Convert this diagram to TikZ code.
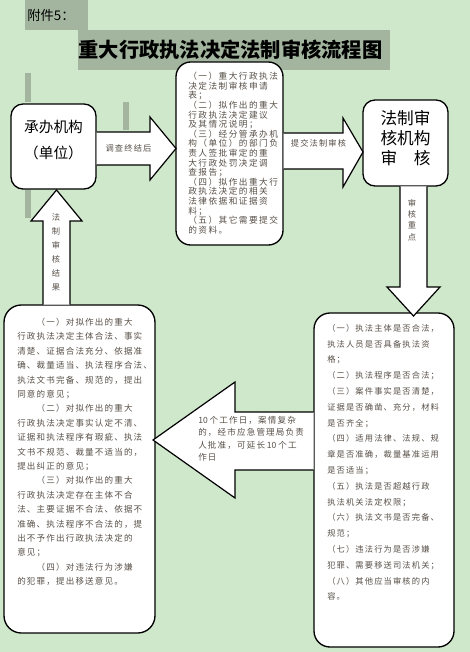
\documentclass[tikz,border=0pt]{standalone}
\usepackage{fontspec}
\setmainfont{Noto Sans CJK SC}
\usetikzlibrary{positioning,calc}
\definecolor{bggreen}{RGB}{207,231,203}
\definecolor{hlgray}{RGB}{163,181,159}
\definecolor{txtgray}{RGB}{88,80,72}
% extra tracking between CJK characters
\newdimen\cjkgap
\cjkgap=0pt
\newcount\cjkc
\def\cjkclass#1#2{\cjkc=#1 \loop\XeTeXcharclass\cjkc=5 \advance\cjkc by 1 \ifnum\cjkc<#2 \repeat}
\cjkclass{"3000}{"3040}
\cjkclass{"4E00}{"A000}
\cjkclass{"FF00}{"FFF0}
\XeTeXinterchartokenstate=1
\XeTeXinterchartoks 5 5 = {\hskip\cjkgap\relax}

\begin{document}
\begin{tikzpicture}[
    x=0.75pt, y=-0.75pt,
    box/.style={draw=black, fill=white, line width=1pt, rounded corners=9pt, inner sep=0pt},
    barrow/.style={draw=black, fill=white, line width=0.9pt, line join=miter},
    note/.style={text=txtgray, inner sep=0pt, align=left, anchor=north west},
    tag/.style={text=txtgray, inner sep=0pt, align=center}
]
\useasboundingbox (0,0) rectangle (470,652);
\fill[bggreen] (0,0) rectangle (470,652);

%% header
\fill[hlgray] (25,0) rectangle (88,30);
\fill[hlgray] (78,30) rectangle (390,70);
\fill[hlgray] (25,73) rectangle (31,102);
\fill[hlgray] (123,102) rectangle (129,130);
\fill[hlgray] (25,190) rectangle (31,218);
\node[anchor=west, inner sep=0pt, font=\fontsize{10}{12}\selectfont] (fj) at (27,15) {附件5：};
\node[inner sep=0pt, font=\bfseries\fontsize{15.2}{18}\selectfont] (title) at (230.5,50) {重大行政执法决定法制审核流程图};

%% boxes
\node[box, minimum width=85*0.75pt, minimum height=85*0.75pt] (cb) at (53.5,146.5) {};
\node[box, rounded corners=11pt, minimum width=107*0.75pt, minimum height=183*0.75pt] (cl) at (229.5,153.5) {};
\node[box, minimum width=85*0.75pt, minimum height=86*0.75pt] (fz) at (405.5,143) {};
\node[box, rounded corners=12pt, minimum width=140*0.75pt, minimum height=334*0.75pt] (zd) at (384,480) {};
\node[box, rounded corners=13pt, minimum width=151*0.75pt, minimum height=328*0.75pt] (yj) at (79.5,469) {};

\node[inner sep=0pt, align=center, font=\fontsize{11}{19.5}\selectfont] (cbt) at (53.5,140) {承办机构\\（单位）};
\node[inner sep=0pt, align=center, font=\fontsize{12.5}{15}\selectfont] (fzt) at (405.5,138) {法制审\\核机构\\审\hspace{1em}核};

\node[note, font={\fontsize{6.5}{7.2}\selectfont\setlength{\cjkgap}{1.1pt}}] (clt) at (188,72) {%
（一）重大行政执法\\决定法制审核申请\\表；\\（二）拟作出的重大\\行政执法决定建议\\及其情况说明；\\%
（三）经分管承办机\\构（单位）的部门负\\责人签批审定的重\\大行政处罚决定调\\查报告；\\%
（四）拟作出重大行\\政执法决定的相关\\法律依据和证据资\\料；\\（五）其它需要提交\\的资料。};

\node[note, font={\fontsize{6.2}{11.85}\selectfont\setlength{\cjkgap}{0.85pt}}] (zdt) at (327,324) {%
（一）执法主体是否合法，\\执法人员是否具备执法资\\格；\\（二）执法程序是否合法；\\%
（三）案件事实是否清楚，\\证据是否确凿、充分，材料\\是否齐全；\\%
（四）适用法律、法规、规\\章是否准确，裁量基准运用\\是否适当；\\%
（五）执法是否超越行政\\执法机关法定权限；\\（六）执法文书是否完备、\\规范；\\%
（七）违法行为是否涉嫌\\犯罪、需要移送司法机关；\\（八）其他应当审核的内\\容。};

\node[note, font={\fontsize{6.4}{10.8}\selectfont\setlength{\cjkgap}{0.88pt}}] (yjt) at (17,318) {%
　　（一）对拟作出的重大\\行政执法决定主体合法、事实\\清楚、证据合法充分、依据准\\确、裁量适当、执法程序合法、\\执法文书完备、规范的，提出\\同意的意见；\\%
　　（二）对拟作出的重大\\行政执法决定事实认定不清、\\证据和执法程序有瑕疵、执法\\文书不规范、裁量不适当的，\\提出纠正的意见；\\%
　　（三）对拟作出的重大\\行政执法决定存在主体不合\\法、主要证据不合法、依据不\\准确、执法程序不合法的，提\\出不予作出行政执法决定的\\意见；\\%
　　（四）对违法行为涉嫌\\的犯罪，提出移送意见。};

%% block arrows
\draw[barrow] (96.5,132) -- (150,132) -- (150,117) -- (176,148.5) -- (150,180) -- (150,165) -- (96.5,165);
\draw[barrow] (283.5,133) -- (343,133) -- (343,118) -- (363,152) -- (343,187) -- (343,169) -- (283.5,169);
\draw[barrow] (400,186.5) -- (400,287) -- (387,287) -- (413.5,316) -- (440,287) -- (427,287) -- (427,186.5);
\draw[barrow] (313.5,412) -- (235,412) -- (235,382) -- (153,440) -- (235,498) -- (235,470) -- (313.5,470);
\draw[barrow] (43,304.5) -- (43,221) -- (31,221) -- (56.5,190) -- (82,221) -- (70,221) -- (70,304.5);

\node[tag, font={\fontsize{6.2}{8}\selectfont\setlength{\cjkgap}{0.85pt}}] (a1) at (128.5,148) {调查终结后};
\node[tag, font={\fontsize{6.2}{8}\selectfont\setlength{\cjkgap}{0.85pt}}] (a2) at (318.5,143) {提交法制审核};
\node[tag, font=\fontsize{6.2}{8.5}\selectfont] (a3) at (412,220) {审\\核\\重\\点};
\node[tag, font=\fontsize{6.2}{10.5}\selectfont] (a4) at (56,252) {法\\制\\审\\核\\结\\果};
\node[note, font={\fontsize{6.4}{9.2}\selectfont\setlength{\cjkgap}{0.88pt}}] (a5) at (198,416) {%
10 个工作日，案情复杂\\的，经市应急管理局负责\\人批准，可延长 10 个工\\作日};
\end{tikzpicture}
\end{document}
